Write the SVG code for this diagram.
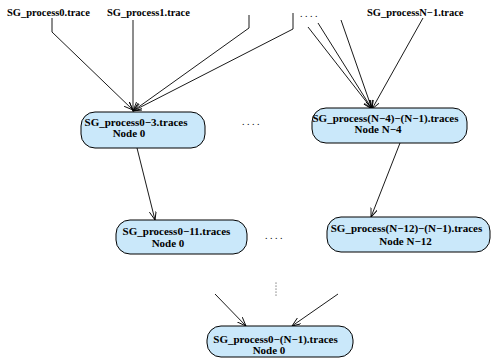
<svg xmlns="http://www.w3.org/2000/svg" width="492" height="359" viewBox="0 0 492 359">
<style>
text{font-family:"Liberation Serif","Times New Roman",serif;font-weight:bold;fill:#000}
.lbl{font-size:10.5px}
.nt{font-size:11px;text-anchor:middle}
.box{fill:#cae8fa;stroke:#000;stroke-width:1}
.e{fill:none;stroke:#000;stroke-width:0.9}
.dots{font-size:10px;font-weight:normal}
</style>
<defs>
<marker id="ah" markerWidth="10" markerHeight="8" refX="9" refY="3.5" orient="auto" markerUnits="userSpaceOnUse">
<path d="M0,0 L9,3.5 L0,7" fill="none" stroke="#000" stroke-width="0.9"/>
</marker>
</defs>
<rect width="492" height="359" fill="#fff"/>
<g id="labels">
<text class="lbl" x="7" y="16">SG_process0.trace</text>
<text class="lbl" x="107" y="16">SG_process1.trace</text>
<text class="lbl" x="367" y="16">SG_processN−1.trace</text>
<text class="dots" x="300" y="17">. . . .</text>
<text class="dots" x="242" y="125">. . . .</text>
<text class="dots" x="265" y="239">. . . .</text>
<g fill="#000"><circle cx="276" cy="283" r="0.5"/><circle cx="276" cy="286" r="0.5"/><circle cx="276" cy="289" r="0.5"/><circle cx="276" cy="292" r="0.5"/><circle cx="276" cy="295" r="0.5"/></g>
</g>
<g id="connectors">
<polyline class="e" points="52,18 52,32 133,110" marker-end="url(#ah)"/>
<polyline class="e" points="133,20 133,111" marker-end="url(#ah)"/>
<polyline class="e" points="249,15 249,28 133,111" marker-end="url(#ah)"/>
<polyline class="e" points="293,13 293,29 133,111" marker-end="url(#ah)"/>
<line class="e" x1="308" y1="27" x2="372" y2="109" marker-end="url(#ah)"/>
<line class="e" x1="318" y1="23" x2="372" y2="109" marker-end="url(#ah)"/>
<line class="e" x1="341" y1="20" x2="372" y2="109" marker-end="url(#ah)"/>
<line class="e" x1="423" y1="18" x2="372" y2="109" marker-end="url(#ah)"/>
<line class="e" x1="137" y1="148" x2="155" y2="220" marker-end="url(#ah)"/>
<line class="e" x1="400" y1="143" x2="371" y2="217" marker-end="url(#ah)"/>
<line class="e" x1="215" y1="294" x2="246" y2="326" marker-end="url(#ah)"/>
<line class="e" x1="338" y1="294" x2="292" y2="326" marker-end="url(#ah)"/>
</g>
<g id="n1">
<rect class="box" x="81" y="112" width="124" height="36" rx="14" ry="14"/>
<text class="nt" x="136" y="126">SG_process0−3.traces</text>
<text class="nt" x="129" y="137">Node 0</text>
</g>
<g id="n2">
<rect class="box" x="312" y="108" width="155" height="35" rx="14" ry="14"/>
<text class="nt" x="385.5" y="122">SG_process(N−4)−(N−1).traces</text>
<text class="nt" x="378" y="133">Node N−4</text>
</g>
<g id="n3">
<rect class="box" x="116" y="220" width="131" height="34" rx="14" ry="14"/>
<text class="nt" x="176.5" y="235">SG_process0−11.traces</text>
<text class="nt" x="168" y="247">Node 0</text>
</g>
<g id="n4">
<rect class="box" x="327" y="217" width="163" height="35" rx="14" ry="14"/>
<text class="nt" x="406.5" y="232">SG_process(N−12)−(N−1).traces</text>
<text class="nt" x="405.5" y="245">Node N−12</text>
</g>
<g id="n5">
<rect class="box" x="207" y="326" width="146" height="31" rx="14" ry="14"/>
<text class="nt" x="275.5" y="343">SG_process0−(N−1).traces</text>
<text class="nt" x="269" y="354">Node 0</text>
</g>
</svg>
